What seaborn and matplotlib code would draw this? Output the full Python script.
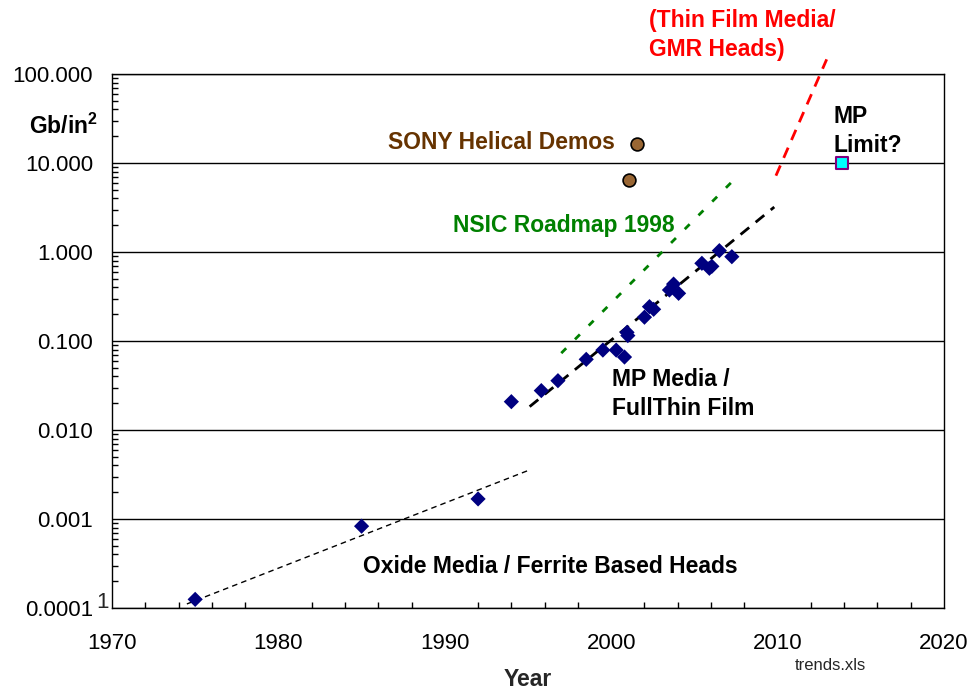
import numpy as np
import matplotlib
matplotlib.use("Agg")
import matplotlib.pyplot as plt
import seaborn as sns
from matplotlib.ticker import FixedLocator, LogLocator, MultipleLocator, NullFormatter

# Data (year, areal density in Gb/in^2)
oxide_years = [1975.0, 1985.0, 1992.0]
oxide_density = [0.000125, 0.00083, 0.00168]

mp_years = [1994.0, 1995.8, 1996.8, 1998.5, 1999.5, 2000.3, 2000.8, 2001.0, 2000.95,
            2002.0, 2002.3, 2002.55, 2003.5, 2003.75, 2004.05, 2005.45, 2005.9,
            2006.05, 2006.5, 2007.25]
mp_density = [0.0208, 0.0277, 0.0358, 0.0622, 0.079, 0.079, 0.066, 0.115, 0.125,
              0.185, 0.243, 0.227, 0.374, 0.436, 0.343, 0.746, 0.656,
              0.69, 1.035, 0.885]

sony_years = [2001.55, 2001.05]
sony_density = [16.3, 6.4]

mp_limit_year = [2013.9]
mp_limit_density = [10.0]

# trend lines, start and end points
oxide_trend_years = [1974.5, 1995.1]
oxide_trend_density = [0.000111, 0.00356]
mp_trend_years = [1995.1, 2009.8]
mp_trend_density = [0.0183, 3.2]
nsic_years = [1997.0, 2007.2]
nsic_density = [0.073, 6.0]
gmr_years = [2009.9, 2012.95]
gmr_density = [7.2, 146.0]

xtick_values = [1970, 1980, 1990, 2000, 2010, 2020]
ytick_values = [0.0001, 0.001, 0.01, 0.1, 1, 10, 100]
ytick_labels = ["0.0001", "0.001", "0.010", "0.100", "1.000", "10.000", "100.000"]

sns.set_style("white")
plt.rcParams['font.family'] = ['Liberation Sans', 'DejaVu Sans']
plt.rcParams['mathtext.fontset'] = 'custom'
plt.rcParams['mathtext.rm'] = 'Liberation Sans'
plt.rcParams['mathtext.bf'] = 'Liberation Sans:bold'

fig = plt.figure(figsize=(9.72, 6.92), dpi=100)
ax = fig.add_axes([0.1152, 0.1214, 0.8560, 0.7717])

# Trend lines
sns.lineplot(x=oxide_trend_years, y=oxide_trend_density, ax=ax, color='black',
             lw=1.0, linestyle=(0, (4, 3)))
sns.lineplot(x=mp_trend_years, y=mp_trend_density, ax=ax, color='black',
             lw=2.0, linestyle=(0, (4, 3)))
sns.lineplot(x=nsic_years, y=nsic_density, ax=ax, color='#008000',
             lw=2.0, linestyle=(0, (2.5, 4.5)))
sns.lineplot(x=gmr_years, y=gmr_density, ax=ax, color='#ff0000',
             lw=2.0, linestyle=(0, (4, 3)), clip_on=False)

# Data points
sns.scatterplot(x=oxide_years, y=oxide_density, ax=ax, marker='D', s=60,
                color='#000080', edgecolor='none', zorder=3)
sns.scatterplot(x=mp_years, y=mp_density, ax=ax, marker='D', s=60,
                color='#000080', edgecolor='none', zorder=3)
sns.scatterplot(x=sony_years, y=sony_density, ax=ax, marker='o', s=85,
                color='#996633', edgecolor='black', linewidth=1.2, zorder=3)
sns.scatterplot(x=mp_limit_year, y=mp_limit_density, ax=ax, marker='s', s=85,
                color='#00ffff', edgecolor='#800080', linewidth=1.5, zorder=3)

# Axes
ax.set_yscale('log')
ax.set_xlim(1970, 2020)
ax.set_ylim(0.0001, 100)
ax.xaxis.set_major_locator(FixedLocator(xtick_values))
ax.xaxis.set_minor_locator(MultipleLocator(2))
ax.yaxis.set_major_locator(FixedLocator(ytick_values))
ax.yaxis.set_minor_locator(LogLocator(base=10, subs=np.arange(2, 10)))
ax.yaxis.set_minor_formatter(NullFormatter())
ax.set_yticklabels(ytick_labels)
ax.set_xlabel('')
ax.set_ylabel('')

ax.tick_params(axis='x', which='major', direction='inout', length=10, width=1,
               labelsize=16, pad=13, colors='black')
ax.tick_params(axis='x', which='minor', direction='in', length=4.3, width=1,
               bottom=True, colors='black')
ax.tick_params(axis='y', which='major', direction='out', length=5, width=1,
               labelsize=16, pad=8.5, colors='black')
ax.tick_params(axis='y', which='minor', direction='in', length=4, width=1,
               left=True, colors='black')

ax.grid(False)
ax.yaxis.grid(True, which='major', color='black', linewidth=1)
for side in ax.spines.values():
    side.set_color('black')
    side.set_linewidth(1.0)

# Annotations
bold = dict(fontsize=16.5, fontweight='bold')
ax.text(1986.6, 16.8, 'SONY Helical Demos', color='#663300', ha='left', va='center', **bold)
ax.text(1990.5, 2.0, 'NSIC Roadmap 1998', color='#008000', ha='left', va='center', **bold)
ax.text(2000.05, 0.0254, 'MP Media /\nFullThin Film', color='black', ha='left',
        va='center', linespacing=1.35, **bold)
ax.text(1985.1, 0.000291, 'Oxide Media / Ferrite Based Heads', color='black',
        ha='left', va='center', **bold)
ax.text(2013.35, 22.9, 'MP\nLimit?', color='black', ha='left', va='center',
        linespacing=1.35, **bold)
ax.text(2002.3, 274, '(Thin Film Media/\nGMR Heads)', color='#ff0000', ha='left',
        va='center', linespacing=1.35, clip_on=False, **bold)
ax.text(1969.15, 26, r'Gb/in$^{\mathbf{2}}$', color='black', ha='right', va='center',
        clip_on=False, **bold)

fig.text(528 / 972, 1 - 680 / 692, 'Year', ha='center', va='center', **bold)
fig.text(830 / 972, 1 - 666 / 692, 'trends.xls', ha='center', va='center', fontsize=12)
fig.text(96 / 972, 1 - 608 / 692, '1', ha='left', va='baseline', fontsize=16)

fig.savefig('out.png', dpi=100)
